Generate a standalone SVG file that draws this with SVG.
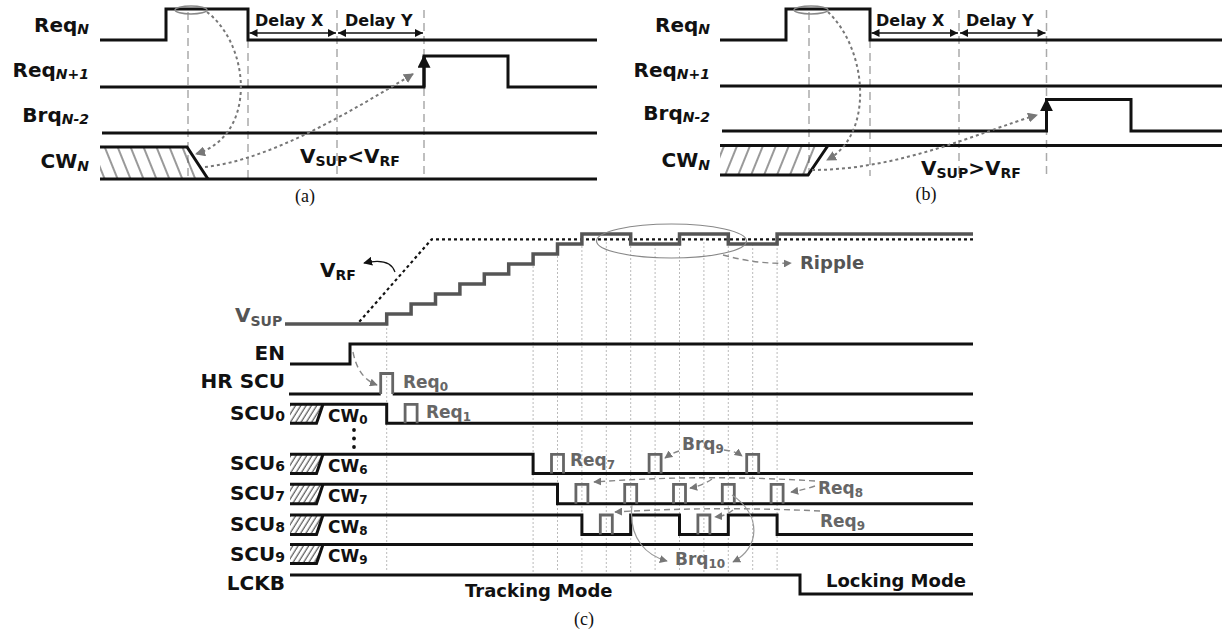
<svg xmlns="http://www.w3.org/2000/svg" width="1225" height="634" viewBox="0 0 1225 634">
<style>
.sig{fill:none;stroke:#111;stroke-width:3;stroke-linejoin:miter}
.gsig{fill:none;stroke:#555;stroke-width:3.5}
.pulse{fill:none;stroke:#666;stroke-width:2.8}
.vdash{fill:none;stroke:#aaa;stroke-width:1.5;stroke-dasharray:8 5}
.vdot{fill:none;stroke:#bbb;stroke-width:1;stroke-dasharray:2 2}
.lbl{font-family:"DejaVu Sans",Verdana,sans-serif;font-weight:bold;font-size:20px;fill:#111}
.sub{font-size:14px;font-style:italic}
.sb{font-size:14px}
.glbl{font-family:"DejaVu Sans",Verdana,sans-serif;font-weight:bold;font-size:17px;fill:#666}
.gsb{font-size:12px}
.mid{font-family:"DejaVu Sans",Verdana,sans-serif;font-weight:bold;font-size:16px;fill:#111}
.big{font-family:"DejaVu Sans",Verdana,sans-serif;font-weight:bold;font-size:18px;fill:#111}
.cap{font-family:"Liberation Serif","Times New Roman",serif;font-size:18px;fill:#111}
.dotarr{fill:none;stroke:#777;stroke-width:2;stroke-dasharray:3 3;marker-end:url(#ag)}
.dasharr{fill:none;stroke:#888;stroke-width:1.4;stroke-dasharray:6 4;marker-end:url(#ag2)}
.thinarr{fill:none;stroke:#999;stroke-width:1.2;marker-end:url(#ag2)}
.delay{fill:none;stroke:#111;stroke-width:1.5;marker-start:url(#ab);marker-end:url(#ab)}
.edge{stroke:#111;stroke-width:3;marker-end:url(#au)}
.ell{fill:none;stroke:#888;stroke-width:1.5}
</style>
<defs>
<marker id="ab" viewBox="0 0 10 10" refX="10" refY="5" markerWidth="9" markerHeight="8" markerUnits="userSpaceOnUse" orient="auto-start-reverse"><path d="M0,0 L10,5 L0,10 z" fill="#111"/></marker>
<marker id="au" viewBox="0 0 10 10" refX="9" refY="5" markerWidth="13" markerHeight="13" markerUnits="userSpaceOnUse" orient="auto"><path d="M0,0 L10,5 L0,10 z" fill="#111"/></marker>
<marker id="ag" viewBox="0 0 10 10" refX="9" refY="5" markerWidth="10" markerHeight="10" markerUnits="userSpaceOnUse" orient="auto"><path d="M0,0 L10,5 L0,10 z" fill="#777"/></marker>
<marker id="ag2" viewBox="0 0 10 10" refX="9" refY="5" markerWidth="8" markerHeight="8" markerUnits="userSpaceOnUse" orient="auto"><path d="M0,0 L10,5 L0,10 z" fill="#777"/></marker>
<marker id="ak" viewBox="0 0 10 10" refX="9" refY="5" markerWidth="9" markerHeight="9" markerUnits="userSpaceOnUse" orient="auto"><path d="M0,0 L10,5 L0,10 z" fill="#111"/></marker>
<pattern id="hA" patternUnits="userSpaceOnUse" width="12" height="12" patternTransform="rotate(-22)"><line x1="6" y1="-1" x2="6" y2="13" stroke="#333" stroke-width="1"/></pattern>
<pattern id="hB" patternUnits="userSpaceOnUse" width="12" height="12" patternTransform="rotate(22)"><line x1="6" y1="-1" x2="6" y2="13" stroke="#333" stroke-width="1"/></pattern>
<pattern id="hC" patternUnits="userSpaceOnUse" width="4.5" height="10" patternTransform="rotate(32)"><line x1="2" y1="-1" x2="2" y2="11" stroke="#333" stroke-width="1"/></pattern>
</defs>
<rect width="1225" height="634" fill="#fff"/>

<!-- ===== Panel (a) ===== -->
<g id="a-guides">
<line class="vdash" x1="188" y1="12" x2="188" y2="178"/>
<line class="vdash" x1="248" y1="40" x2="248" y2="178"/>
<line class="vdash" x1="337" y1="10" x2="337" y2="180"/>
<line class="vdash" x1="424" y1="10" x2="424" y2="178"/>
</g>
<g id="a-reqn">
<text class="lbl" x="89" y="32" text-anchor="end">Req<tspan class="sub" dy="2">N</tspan></text>
<path class="sig" d="M100,40 H166 V9 H248 V40 H597"/>
<ellipse class="ell" cx="191" cy="10" rx="16" ry="4"/>
</g>
<g id="a-reqn1">
<text class="lbl" x="89" y="77" text-anchor="end">Req<tspan class="sub" dy="2">N+1</tspan></text>
<path class="sig" d="M100,87 H424 V56 H508 V87 H597"/>
</g>
<g id="a-brq">
<text class="lbl" x="89" y="122" text-anchor="end">Brq<tspan class="sub" dy="2">N-2</tspan></text>
<path class="sig" d="M102,133 H597"/>
</g>
<g id="a-cw">
<text class="lbl" x="89" y="168" text-anchor="end">CW<tspan class="sub" dy="3">N</tspan></text>
<polygon points="100,147 187,147 208,179 100,179" fill="url(#hA)"/>
<path class="sig" d="M100,147 H187 L208,179"/>
<path class="sig" d="M100,179 H597"/>
</g>
<g id="a-text">
<text class="mid" x="255" y="26">Delay X</text>
<text class="mid" x="345" y="26">Delay Y</text>
<text class="lbl" x="300" y="163">V<tspan class="sb" dy="3">SUP</tspan><tspan dy="-3">&lt;V</tspan><tspan class="sb" dy="3">RF</tspan></text>
<text class="cap" x="305" y="202" text-anchor="middle">(a)</text>
</g>

<!-- ===== Panel (b) ===== -->
<g id="b-guides">
<line class="vdash" x1="809" y1="12" x2="809" y2="176"/>
<line class="vdash" x1="870" y1="40" x2="870" y2="176"/>
<line class="vdash" x1="959" y1="10" x2="959" y2="180"/>
<line class="vdash" x1="1046.5" y1="10" x2="1046.5" y2="178"/>
</g>
<g id="b-reqn">
<text class="lbl" x="710" y="32" text-anchor="end">Req<tspan class="sub" dy="2">N</tspan></text>
<path class="sig" d="M720,40 H786 V9 H870 V40 H1222"/>
<ellipse class="ell" cx="811" cy="10" rx="17" ry="4"/>
</g>
<g id="b-reqn1">
<text class="lbl" x="710" y="77" text-anchor="end">Req<tspan class="sub" dy="2">N+1</tspan></text>
<path class="sig" d="M720,86 H1222"/>
</g>
<g id="b-brq">
<text class="lbl" x="710" y="120" text-anchor="end">Brq<tspan class="sub" dy="2">N-2</tspan></text>
<path class="sig" d="M722,131 H1046.5 V99.5 H1131 V131 H1222"/>
</g>
<g id="b-cw">
<text class="lbl" x="710" y="167" text-anchor="end">CW<tspan class="sub" dy="3">N</tspan></text>
<polygon points="720,145.5 828,145.5 808,175 720,175" fill="url(#hB)"/>
<path class="sig" d="M720,175 H808 L828,145.5"/>
<path class="sig" d="M720,145.5 H1222"/>
</g>
<g id="b-text">
<text class="mid" x="876" y="26">Delay X</text>
<text class="mid" x="966" y="26">Delay Y</text>
<text class="lbl" x="921" y="175">V<tspan class="sb" dy="3">SUP</tspan><tspan dy="-3">&gt;V</tspan><tspan class="sb" dy="3">RF</tspan></text>
<text class="cap" x="926" y="200" text-anchor="middle">(b)</text>
</g>

<!-- ===== Panel (c) ===== -->
<g id="c-guides">
<line class="vdot" x1="386.7" y1="324" x2="386.7" y2="572"/>
<line class="vdot" x1="533.1" y1="254" x2="533.1" y2="572"/>
<line class="vdot" x1="557.5" y1="244" x2="557.5" y2="572"/>
<line class="vdot" x1="581.9" y1="238" x2="581.9" y2="572"/>
<line class="vdot" x1="606.3" y1="238" x2="606.3" y2="572"/>
<line class="vdot" x1="630.7" y1="238" x2="630.7" y2="572"/>
<line class="vdot" x1="655.1" y1="244" x2="655.1" y2="572"/>
<line class="vdot" x1="679.5" y1="244" x2="679.5" y2="572"/>
<line class="vdot" x1="703.9" y1="238" x2="703.9" y2="572"/>
<line class="vdot" x1="728.3" y1="238" x2="728.3" y2="572"/>
<line class="vdot" x1="752.7" y1="244" x2="752.7" y2="572"/>
<line class="vdot" x1="777.1" y1="244" x2="777.1" y2="572"/>
</g>
<g id="c-vrf">
<path d="M359.3,321.7 L431.7,239.3 H973" fill="none" stroke="#111" stroke-width="2.2" stroke-dasharray="3 3"/>
<text class="lbl" x="320" y="277">V<tspan class="sb" dy="3">RF</tspan></text>
</g>
<g id="c-vsup">
<path class="gsig" d="M285,324 H386.7 V314 H411.1 V304 H435.5 V294 H459.9 V284 H484.3 V274 H508.7 V264 H533.1 V254 H557.5 V244 H581.9 V234 H630.7 V244 H679.5 V234 H728.3 V244 H777.1 V234 H973"/>
<text class="lbl" x="235" y="322" style="fill:#555">V<tspan class="sb" dy="4">SUP</tspan></text>
<ellipse class="ell" cx="671.5" cy="241" rx="75" ry="17" style="stroke-width:1.2"/>
<text class="big" x="800" y="269" style="fill:#555">Ripple</text>
</g>
<g id="c-en">
<text class="lbl" x="285" y="360" text-anchor="end">EN</text>
<path class="sig" d="M290,364 H350 V344 H973"/>
</g>
<g id="c-hrscu">
<text class="lbl" x="285" y="388" text-anchor="end">HR SCU</text>
<path class="sig" d="M289,394 H380.7 M392.7,394 H973"/>
<path class="pulse" d="M380.7,394 V373.5 H392.7 V394"/>
<text class="glbl" x="403" y="388">Req<tspan class="gsb" dy="3">0</tspan></text>
</g>
<g id="c-scu0">
<text class="lbl" x="285" y="420" text-anchor="end">SCU<tspan class="sb" dy="1">0</tspan></text>
<polygon points="290,404.3 323,404.3 316.5,423.3 290,423.3" fill="url(#hC)"/>
<path class="sig" d="M290,423.3 H316.5 L323,404.3"/>
<path class="sig" d="M290,404.3 H386.7 V423.3 H973"/>
<text class="lbl" x="328" y="422" style="font-size:17px">CW<tspan class="gsb" dy="2">0</tspan></text>
<path class="pulse" d="M405.1,423.3 V404.3 H417.1 V423.3"/>
<text class="glbl" x="426" y="418">Req<tspan class="gsb" dy="3">1</tspan></text>
</g>
<g id="c-dots">
<circle cx="354" cy="430" r="1.9" fill="#111"/>
<circle cx="354" cy="438.5" r="1.9" fill="#111"/>
<circle cx="354" cy="447" r="1.9" fill="#111"/>
</g>
<g id="c-scu6">
<text class="lbl" x="285" y="470" text-anchor="end">SCU<tspan class="sb" dy="1">6</tspan></text>
<polygon points="290,454.3 323,454.3 316.5,473.5 290,473.5" fill="url(#hC)"/>
<path class="sig" d="M290,473.5 H316.5 L323,454.3"/>
<path class="sig" d="M290,454.3 H533.1 V473.5 H973"/>
<text class="lbl" x="328" y="472" style="font-size:17px">CW<tspan class="gsb" dy="2">6</tspan></text>
<path class="pulse" d="M551.5,473.5 V454.3 H563.5 V473.5 M649.1,473.5 V454.3 H661.1 V473.5 M746.7,473.5 V454.3 H758.7 V473.5"/>
<text class="glbl" x="570" y="466">Req<tspan class="gsb" dy="3">7</tspan></text>
<text class="glbl" x="682" y="450">Brq<tspan class="gsb" dy="3">9</tspan></text>
</g>
<g id="c-scu7">
<text class="lbl" x="285" y="500" text-anchor="end">SCU<tspan class="sb" dy="1">7</tspan></text>
<polygon points="290,484.3 323,484.3 316.5,503.8 290,503.8" fill="url(#hC)"/>
<path class="sig" d="M290,503.8 H316.5 L323,484.3"/>
<path class="sig" d="M290,484.3 H557.5 V503.8 H973"/>
<text class="lbl" x="328" y="502" style="font-size:17px">CW<tspan class="gsb" dy="2">7</tspan></text>
<path class="pulse" d="M575.9,503.8 V484.3 H587.9 V503.8 M624.7,503.8 V484.3 H636.7 V503.8 M673.5,503.8 V484.3 H685.5 V503.8 M722.3,503.8 V484.3 H734.3 V503.8 M771.1,503.8 V484.3 H783.1 V503.8"/>
<text class="glbl" x="818" y="494">Req<tspan class="gsb" dy="3">8</tspan></text>
</g>
<g id="c-scu8">
<text class="lbl" x="285" y="531" text-anchor="end">SCU<tspan class="sb" dy="1">8</tspan></text>
<polygon points="290,515 323,515 316.5,534.5 290,534.5" fill="url(#hC)"/>
<path class="sig" d="M290,534.5 H316.5 L323,515"/>
<path class="sig" d="M290,515 H581.9 V534.5 H630.7 V515 H679.5 V534.5 H728.3 V515 H777.1 V534.5 H973"/>
<text class="lbl" x="328" y="533" style="font-size:17px">CW<tspan class="gsb" dy="2">8</tspan></text>
<path class="pulse" d="M600.3,534.5 V515 H612.3 V534.5 M697.9,534.5 V515 H709.9 V534.5"/>
<text class="glbl" x="820" y="527">Req<tspan class="gsb" dy="3">9</tspan></text>
</g>
<g id="c-scu9">
<text class="lbl" x="285" y="561" text-anchor="end">SCU<tspan class="sb" dy="1">9</tspan></text>
<polygon points="290,544.5 323,544.5 316.5,563.5 290,563.5" fill="url(#hC)"/>
<path class="sig" d="M290,563.5 H316.5 L323,544.5"/>
<path class="sig" d="M290,544.5 H973"/>
<text class="lbl" x="328" y="562" style="font-size:17px">CW<tspan class="gsb" dy="2">9</tspan></text>
<text class="glbl" x="675" y="565">Brq<tspan class="gsb" dy="3">10</tspan></text>
</g>
<g id="c-lckb">
<text class="lbl" x="285" y="590" text-anchor="end">LCKB</text>
<path class="sig" d="M290,575 H800 V594 H973"/>
<text class="big" x="465" y="597">Tracking Mode</text>
<text class="big" x="826" y="587">Locking Mode</text>
</g>
<text class="cap" x="584" y="625" text-anchor="middle">(c)</text>

<!-- ===== Connectors ===== -->
<g id="connectors">
<line class="delay" x1="249.5" y1="33" x2="336" y2="33"/>
<line class="delay" x1="338" y1="33" x2="423" y2="33"/>
<line class="edge" x1="424" y1="87" x2="424" y2="56"/>
<path class="dotarr" d="M207,12 C250,45 258,135 196,154"/>
<path class="dotarr" d="M205,167 C270,160 350,112 413,74"/>

<line class="delay" x1="871.5" y1="33" x2="958" y2="33"/>
<line class="delay" x1="960" y1="33" x2="1045.5" y2="33"/>
<line class="edge" x1="1046.5" y1="131" x2="1046.5" y2="99.5"/>
<path class="dotarr" d="M828,12 C868,50 874,135 827,160"/>
<path class="dotarr" d="M812,170 C900,170 980,132 1037,115"/>

<path d="M395,272 Q390,257 364,263" fill="none" stroke="#111" stroke-width="1.2" marker-end="url(#ak)"/>
<path class="dasharr" d="M723,255 Q760,265 791,263"/>
<path class="dasharr" d="M353,352 Q358,378 377,385"/>
<path class="dasharr" d="M679,451 Q672,453 665,458"/>
<path class="dasharr" d="M724,450 Q735,451 742,456"/>
<path class="dasharr" d="M815,481 Q705,474 594,482"/>
<path class="dasharr" d="M712,479 Q702,486 690,488"/>
<path class="dasharr" d="M815,486 Q803,490 791,492"/>
<path class="dasharr" d="M820,511 Q715,506 615,512"/>
<path class="dasharr" d="M733,510 Q726,516 715,517"/>
<path class="thinarr" d="M632,505 C628,540 648,556 667,561"/>
<path class="thinarr" d="M732,495 C762,515 760,548 733,562"/>
</g>
</svg>
